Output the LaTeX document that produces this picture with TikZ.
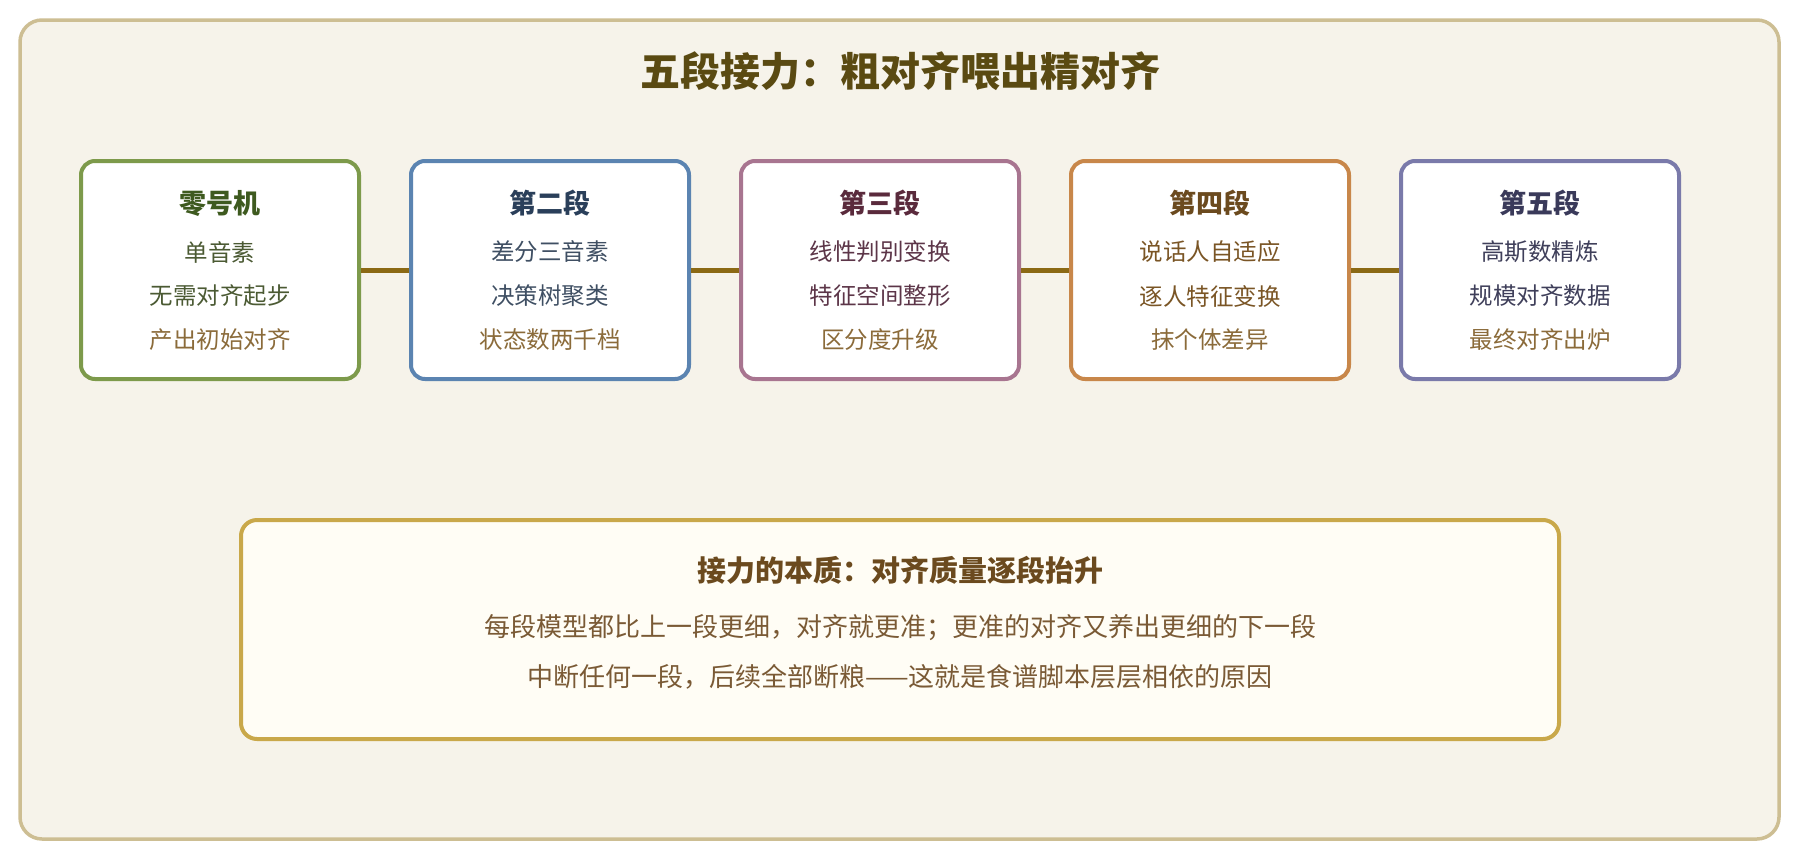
\documentclass[tikz,border=0pt]{standalone}
\usepackage{fontspec}
\setmainfont{Noto Sans CJK SC}
\newfontfamily\cjk{Noto Sans CJK SC}
\usetikzlibrary{positioning}
\definecolor{framefill}{HTML}{F6F3EA}
\definecolor{framedraw}{HTML}{CDBE93}
\definecolor{conn}{HTML}{8B6914}
\definecolor{maintitle}{HTML}{5A4A12}
\definecolor{brownline}{HTML}{8B6B3A}
\definecolor{bAdraw}{HTML}{7D9A4B}\definecolor{bAtitle}{HTML}{3E5A1F}\definecolor{bAtext}{HTML}{4B5A33}
\definecolor{bBdraw}{HTML}{5B84B1}\definecolor{bBtitle}{HTML}{2A3F5A}\definecolor{bBtext}{HTML}{3F4F63}
\definecolor{bCdraw}{HTML}{A87590}\definecolor{bCtitle}{HTML}{5A2A3C}\definecolor{bCtext}{HTML}{5C3548}
\definecolor{bDdraw}{HTML}{C8874A}\definecolor{bDtitle}{HTML}{6B4A1E}\definecolor{bDtext}{HTML}{7A5525}
\definecolor{bEdraw}{HTML}{7A7AAA}\definecolor{bEtitle}{HTML}{3A3A5A}\definecolor{bEtext}{HTML}{3F3F5A}
\definecolor{sumfill}{HTML}{FFFDF5}\definecolor{sumdraw}{HTML}{C9A84A}
\definecolor{sumtitle}{HTML}{6B4A1E}\definecolor{sumtext}{HTML}{7A5A35}
\tikzset{
  stagebox/.style={draw, line width=4pt, fill=white, rounded corners=14pt,
    minimum width=278pt, minimum height=218pt, inner sep=0pt},
  stagetitle/.style={font=\fontsize{27}{32}\selectfont\bfseries, inner sep=0pt},
  stageline/.style={font=\fontsize{23.5}{28}\selectfont, inner sep=0pt},
  connline/.style={draw=conn, line width=5pt},
  sumline/.style={font=\fontsize{26}{30}\selectfont, text=sumtext, inner sep=0pt},
}
\begin{document}
\begin{tikzpicture}[x=1pt,y=-1pt]
\useasboundingbox (0,0) rectangle (1800,860);
\fill[white] (0,0) rectangle (1800,860);
\draw[fill=framefill, draw=framedraw, line width=3.5pt, rounded corners=22pt] (20,20) rectangle (1779,839);
\node[font=\fontsize{40}{46}\selectfont\bfseries, text=maintitle, inner sep=0pt] (title) at (900,71) {五段接力：粗对齐喂出精对齐};

% stage boxes
\node[stagebox, draw=bAdraw] (s1) at (220,270) {};
\node[stagebox, draw=bBdraw] (s2) at (550,270) {};
\node[stagebox, draw=bCdraw] (s3) at (880,270) {};
\node[stagebox, draw=bDdraw] (s4) at (1210,270) {};
\node[stagebox, draw=bEdraw] (s5) at (1540,270) {};

\foreach \n/\x/\c/\t/\a/\b/\d in {
  1/220/A/零号机/单音素/无需对齐起步/产出初始对齐,
  2/550/B/第二段/差分三音素/决策树聚类/状态数两千档,
  3/880/C/第三段/线性判别变换/特征空间整形/区分度升级,
  4/1210/D/第四段/说话人自适应/逐人特征变换/抹个体差异,
  5/1540/E/第五段/高斯数精炼/规模对齐数据/最终对齐出炉}{
  \node[stagetitle, text=b\c title] (t\n) at (\x,203) {\t};
  \node[stageline, text=b\c text] (la\n) at (\x,252) {\a};
  \node[stageline, text=b\c text] (lb\n) at (\x,296) {\b};
  \node[stageline, text=brownline] (lc\n) at (\x,340) {\d};
}

% connectors
\draw[connline] (s1.east) -- (s2.west);
\draw[connline] (s2.east) -- (s3.west);
\draw[connline] (s3.east) -- (s4.west);
\draw[connline] (s4.east) -- (s5.west);

% summary box
\node[draw=sumdraw, fill=sumfill, line width=4pt, rounded corners=16pt,
  minimum width=1318pt, minimum height=219pt, inner sep=0pt] (sum) at (900,629.5) {};
\node[font=\fontsize{29}{34}\selectfont\bfseries, text=sumtitle, inner sep=0pt] (sumt) at (900,570) {接力的本质：对齐质量逐段抬升};
\node[sumline] (sum1) at (900,628) {每段模型都比上一段更细，对齐就更准；更准的对齐又养出更细的下一段};
\node[sumline] (sum2) at (900,677) {中断任何一段，后续全部断粮——这就是食谱脚本层层相依的原因};
\end{tikzpicture}
\end{document}
